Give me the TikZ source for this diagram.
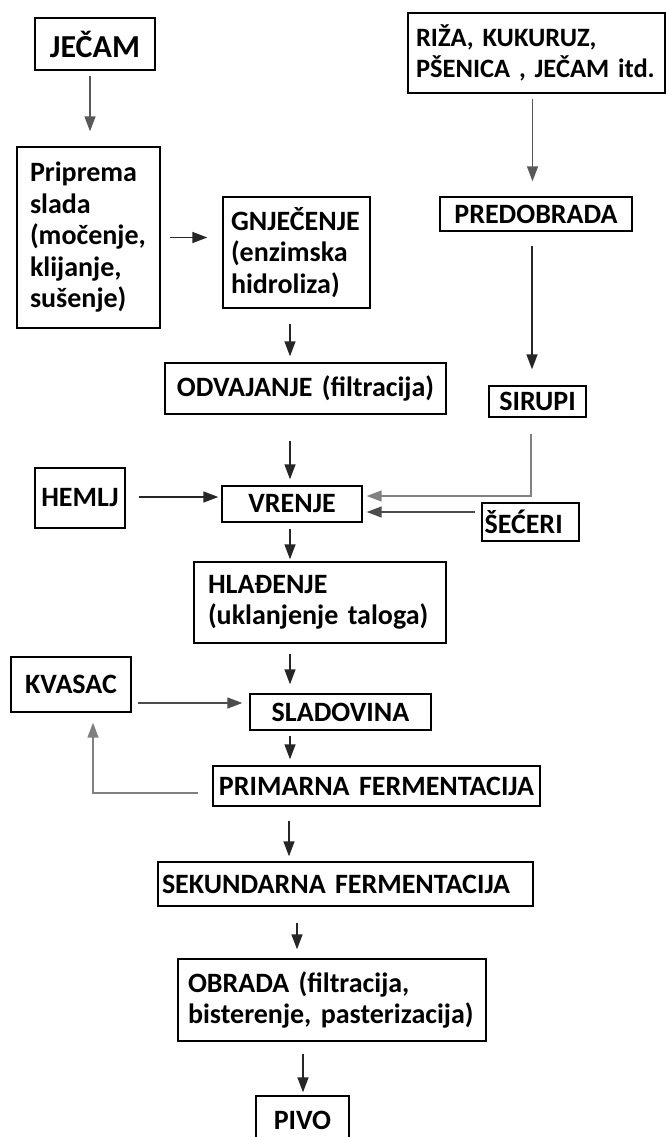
\documentclass[tikz,border=0pt]{standalone}
\usepackage{fontspec}
\setmainfont{Carlito}
\usetikzlibrary{arrows.meta,calc}
\begin{document}
\begin{tikzpicture}[x=1pt,y=-1pt,
  box/.style={draw=black, line width=1.4pt, font=\fontsize{28}{31.5}\selectfont\bfseries, inner ysep=0pt, align=left, anchor=center},
  cbox/.style={box, align=center},
  arr/.style={draw=black!85, line width=1.5pt, -{Triangle[length=15pt,width=11pt]}},
  garr/.style={arr, draw=black!50}]
\fill[white] (0,0) rectangle (667,1137);
\useasboundingbox (0,0) rectangle (667,1137);
% nodes
\node[cbox, text width=110pt, inner xsep=5pt, minimum height=52pt, font=\fontsize{32}{34}\selectfont\bfseries] (jecam) at (95,44) {JEČAM};
\node[box, text width=117pt, inner xsep=13pt, minimum height=181pt] (priprema) at (88.5,237.5) {Priprema\\slada\\(močenje,\\klijanje,\\sušenje)};
\node[box, text width=131pt, inner xsep=8pt, minimum height=111pt] (gnj) at (296.5,252.5) {GNJEČENJE\\(enzimska\\hidroliza)};
\node[box, text width=241pt, inner xsep=8pt, minimum height=80pt, font=\fontsize{26.5}{31.5}\selectfont\bfseries] (riza) at (536.5,53) {\mbox{RIŽA, KUKURUZ,}\\\mbox{PŠENICA , JEČAM itd.}};
\node[cbox, text width=184pt, inner xsep=4pt, minimum height=34pt] (predo) at (536,214) {PREDOBRADA};
\node[cbox, text width=273pt, inner xsep=4pt, minimum height=51pt] (odv) at (305.5,388.5) {ODVAJANJE (filtracija)};
\node[cbox, text width=89pt, inner xsep=4pt, minimum height=31pt] (sirupi) at (537.5,401.5) {SIRUPI};
\node[cbox, text width=82pt, inner xsep=4pt, minimum height=60pt] (hemlj) at (80,498) {HEMLJ};
\node[cbox, text width=132pt, inner xsep=4pt, minimum height=36pt] (vrenje) at (292,504) {VRENJE};
\node[box, text width=92pt, inner xsep=2.5pt, minimum height=38pt] (seceri) at (530.5,522) {ŠEĆERI};
\node[box, text width=224pt, inner xsep=14pt, minimum height=81pt] (hla) at (320,602.5) {HLAĐENJE\\(uklanjenje taloga)};
\node[cbox, text width=112pt, inner xsep=4pt, minimum height=55pt] (kvasac) at (71,684.5) {KVASAC};
\node[cbox, text width=173pt, inner xsep=4pt, minimum height=36pt] (slad) at (340.5,712) {SLADOVINA};
\node[cbox, text width=319pt, inner xsep=4pt, minimum height=40pt] (prim) at (376.5,786) {\mbox{PRIMARNA FERMENTACIJA}};
\node[box, text width=367pt, inner xsep=4pt, minimum height=44pt] (sek) at (345.5,884) {SEKUNDARNA FERMENTACIJA};
\node[box, text width=288pt, inner xsep=10pt, minimum height=82pt] (obr) at (332,1000) {\mbox{OBRADA (filtracija,}\\\mbox{bisterenje, pasterizacija)}};
\node[cbox, text width=85pt, inner xsep=4pt, minimum height=48pt] (pivo) at (302.5,1120) {PIVO};
% helper coordinates
\coordinate (h1) at ($(hemlj.east)+(0,-1)$);
\coordinate (k1) at ($(kvasac.east)+(0,18.5)$);
\coordinate (s1) at ($(seceri.west)+(0,-10)$);
\coordinate (v1) at ($(vrenje.east)+(0,-8)$);
\coordinate (v2) at ($(vrenje.east)+(0,8)$);
\coordinate (p1) at ($(prim.west)+(-14,7)$);
% connectors
\draw[arr, draw=black!65, shorten <=5pt, shorten >=15pt] ([xshift=-5pt]jecam.south) -- ([xshift=-5pt]jecam.south |- priprema.north);
\draw[arr, draw=black!65, shorten <=5pt, shorten >=15pt] ([xshift=-4pt]riza.south) -- ([xshift=-4pt]riza.south |- predo.north);
\draw[arr, shorten <=9pt, shorten >=15pt] (priprema.east) -- (priprema.east -| gnj.west);
\draw[arr, shorten <=15pt, shorten >=6pt] ([xshift=-6.5pt]gnj.south) -- ([xshift=-6.5pt]gnj.south |- odv.north);
\draw[arr, shorten <=14pt, shorten >=16pt] ([xshift=-4pt]predo.south) -- ([xshift=-4pt]predo.south |- sirupi.north);
\draw[arr, shorten <=26pt, shorten >=6pt] ([xshift=-15.5pt]odv.south) -- ([xshift=-15.5pt]odv.south |- vrenje.north);
\draw[arr, shorten <=13pt, shorten >=3pt] (h1) -- (h1 -| vrenje.west);
\draw[garr, shorten <=16pt, shorten >=4pt] ([xshift=-6.5pt]sirupi.south) |- (v1);
\draw[garr, draw=black!70, shorten <=6pt, shorten >=4pt] (s1) -- (v2);
\draw[arr, shorten <=6pt, shorten >=2pt] ([xshift=-2pt]vrenje.south) -- ([xshift=-2pt]vrenje.south |- hla.north);
\draw[arr, shorten <=10pt, shorten >=9pt] ([xshift=-30pt]hla.south) -- ([xshift=-30pt]hla.south |- slad.north);
\draw[garr, draw=black!70, shorten <=6pt, shorten >=7pt] (k1) -- (k1 -| slad.west);
\draw[arr, shorten <=5pt, shorten >=6pt] ([xshift=-50.5pt]slad.south) -- ([xshift=-50.5pt]slad.south |- prim.north);
\draw[garr, shorten >=10pt] (p1) -| ([xshift=22pt]kvasac.south);
\draw[arr, shorten <=14pt, shorten >=5pt] ([xshift=-87.5pt]prim.south) -- ([xshift=-87.5pt]prim.south |- sek.north);
\draw[arr, shorten <=16pt, shorten >=9pt] ([xshift=-48.5pt]sek.south) -- ([xshift=-48.5pt]sek.south |- obr.north);
\draw[arr, shorten <=12pt, shorten >=3pt] ([xshift=-29pt]obr.south) -- ([xshift=-29pt]obr.south |- pivo.north);
\end{tikzpicture}
\end{document}
